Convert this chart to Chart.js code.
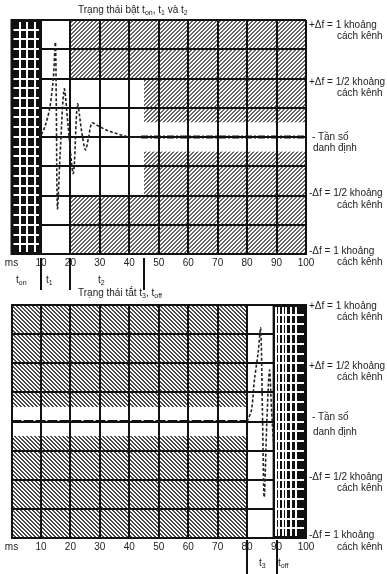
<!DOCTYPE html>
<html>
<head>
<meta charset="utf-8">
<script src="https://cdn.jsdelivr.net/npm/chart.js@4.4.0/dist/chart.umd.min.js"></script>
<style>
  body { margin: 0; background: #fff; font-family: "Liberation Sans", Arial, sans-serif; }
  #wrap { position: relative; width: 387px; height: 574px; overflow: hidden; }
  canvas { position: absolute; left: 0; }
  .t { position: absolute; font-size: 10px; line-height: 11px; color: #222; white-space: nowrap; }
  .t sub { font-size: 7px; vertical-align: baseline; position: relative; top: 2px; }
</style>
</head>
<body>
<div id="wrap">
  <canvas id="onChart" width="387" height="290" style="top:0"></canvas>
  <canvas id="offChart" width="387" height="284" style="top:290px"></canvas>

  <div class="t" style="left:78px;top:4px">Trạng thái bật t<sub>on</sub>, t<sub>1</sub> và t<sub>2</sub></div>
  <div class="t" style="left:309px;top:19px">+Δf = 1 khoảng</div>
  <div class="t" style="left:337px;top:30px">cách kênh</div>
  <div class="t" style="left:309px;top:76px">+Δf = 1/2 khoảng</div>
  <div class="t" style="left:337px;top:87px">cách kênh</div>
  <div class="t" style="left:312px;top:131px">- Tần số</div>
  <div class="t" style="left:313px;top:142px">danh định</div>
  <div class="t" style="left:309px;top:187px">-Δf = 1/2 khoảng</div>
  <div class="t" style="left:337px;top:199px">cách kênh</div>
  <div class="t" style="left:309px;top:245px">-Δf = 1 khoảng</div>
  <div class="t" style="left:337px;top:256px">cách kênh</div>
  <div class="t" style="left:16px;top:274px">t<sub>on</sub></div>
  <div class="t" style="left:46px;top:274px">t<sub>1</sub></div>
  <div class="t" style="left:98px;top:274px">t<sub>2</sub></div>

  <div class="t" style="left:78px;top:287px">Trạng thái tắt t<sub>3</sub>, t<sub>off</sub></div>
  <div class="t" style="left:309px;top:300px">+Δf = 1 khoảng</div>
  <div class="t" style="left:337px;top:311px">cách kênh</div>
  <div class="t" style="left:309px;top:360px">+Δf = 1/2 khoảng</div>
  <div class="t" style="left:337px;top:371px">cách kênh</div>
  <div class="t" style="left:312px;top:411px">- Tần số</div>
  <div class="t" style="left:313px;top:426px">danh định</div>
  <div class="t" style="left:309px;top:471px">-Δf = 1/2 khoảng</div>
  <div class="t" style="left:337px;top:482px">cách kênh</div>
  <div class="t" style="left:309px;top:529px">-Δf = 1 khoảng</div>
  <div class="t" style="left:337px;top:541px">cách kênh</div>
  <div class="t" style="left:259px;top:557px">t<sub>3</sub></div>
  <div class="t" style="left:278px;top:557px">t<sub>off</sub></div>
</div>

<script>
// axis range (ms, deviation in channel spacings)
const timeTicks = [0, 10, 20, 30, 40, 50, 60, 70, 80, 90, 100];
const devMin = -1, devMax = 1, devStep = 0.25;

// switch-on transient
const onTimes = [10.2, 11.5, 13, 14.2, 14.9, 15.2, 15.6, 16.5, 17.9, 19.2, 21, 22.4, 23.8, 25.1, 26.2, 27.3, 29, 30.6, 33, 35, 37.5, 40, 44];
const onDev   = [0.02, 0.1, 0.25, 0.5, 0.81, 0.3, -0.61, -0.15, 0.41, 0.1, -0.31, 0.28, 0.05, -0.11, 0, 0.12, 0.1, 0.08, 0.05, 0.035, 0.015, 0, 0];
const onSteadyTimes = [44, 100];
const onSteadyDev   = [0, 0];

// switch-off transient
const offSteadyTimes = [0, 80];
const offSteadyDev   = [0, 0];
const offTimes = [80, 81.5, 82.5, 83.8, 84.6, 85.2, 85.8, 86.7, 87.6, 88.3, 89];
const offDev   = [0, 0.1, 0.36, 0.6, 0.8, 0.1, -0.65, 0, 0.44, 0.1, -0.2];

// forbidden zones [t0, t1, dev0, dev1]
const onHatch = [[20, 100, 0.5, 1], [45, 100, 0.125, 0.5], [45, 100, -0.5, -0.125], [20, 100, -1, -0.5]];
const offHatch = [[0, 80, 0.125, 1], [0, 80, -1, -0.125]];
// blacked-out intervals and their white sub-grid
const onBlock = [0, 10];
const onBlockCols = [2.8, 5.4, 8.1];
const offBlock = [89, 100];
const offBlockCols = [89.9, 91, 92.2, 93.3, 95, 96.7];
const blockRowStep = 1 / 12;

// time markers below the axis
const onMarks = [10, 20, 45];
const offMarks = [80, 90];

function makeTile(dir, color) {
  const c = document.createElement('canvas');
  c.width = c.height = 4;
  const g = c.getContext('2d');
  g.fillStyle = color;
  for (let i = 0; i < 4; i++) {
    for (let j = 0; j < 4; j++) {
      const k = dir > 0 ? (i + j) % 4 : ((i - j) % 4 + 4) % 4;
      if (k < 2) g.fillRect(i, j, 1, 1);
    }
  }
  return c;
}

const zonesPlugin = {
  id: 'zones',
  beforeDraw(chart, args, opts) {
    const { ctx, scales: { x, y } } = chart;
    ctx.save();
    ctx.fillStyle = ctx.createPattern(makeTile(opts.dir, opts.color), 'repeat');
    opts.hatch.forEach(([t0, t1, d0, d1]) => {
      const l = x.getPixelForValue(t0), r = x.getPixelForValue(t1);
      const top = y.getPixelForValue(d1), bot = y.getPixelForValue(d0);
      ctx.fillRect(l, top, r - l, bot - top);
    });
    ctx.restore();
  },
  beforeDatasetsDraw(chart, args, opts) {
    const { ctx, scales: { x, y } } = chart;
    const l = x.getPixelForValue(opts.block[0]), r = x.getPixelForValue(opts.block[1]);
    const top = y.getPixelForValue(devMax), bot = y.getPixelForValue(devMin);
    ctx.save();
    ctx.fillStyle = '#111';
    ctx.fillRect(l - 1, top - 1, r - l + 2, bot - top + 2);
    ctx.strokeStyle = '#fff';
    ctx.lineWidth = 2;
    ctx.beginPath();
    opts.cols.forEach(v => {
      const px = Math.round(x.getPixelForValue(v));
      ctx.moveTo(px, top + 2);
      ctx.lineTo(px, bot - 2);
    });
    for (let v = devMin + blockRowStep; v < devMax - 0.001; v += blockRowStep) {
      const py = Math.round(y.getPixelForValue(v));
      ctx.moveTo(l + 2, py);
      ctx.lineTo(r - 2, py);
    }
    ctx.stroke();
    ctx.restore();
  },
  afterDraw(chart, args, opts) {
    const { ctx, scales: { x } } = chart;
    ctx.save();
    ctx.strokeStyle = '#111';
    ctx.lineWidth = 2;
    ctx.beginPath();
    opts.marks.forEach(v => {
      const px = Math.round(x.getPixelForValue(v));
      ctx.moveTo(px, chart.chartArea.bottom + opts.markGap);
      ctx.lineTo(px, chart.height);
    });
    ctx.stroke();
    ctx.restore();
  }
};

function pts(xs, ys) {
  return xs.map((v, i) => ({ x: v, y: ys[i] }));
}

function makeChart(id, cfg) {
  return new Chart(document.getElementById(id), {
    type: 'line',
    data: {
      datasets: [
        {
          data: pts(cfg.steadyTimes, cfg.steadyDev),
          borderColor: '#111',
          borderWidth: 3,
          borderDash: cfg.steadyDash,
          pointRadius: 0,
          tension: 0
        },
        {
          data: pts(cfg.times, cfg.dev),
          borderColor: '#222',
          borderWidth: 1.6,
          borderDash: [3, 2],
          pointRadius: 0,
          tension: 0.3
        }
      ]
    },
    options: {
      responsive: false,
      animation: false,
      devicePixelRatio: 1,
      layout: { padding: { left: 11.5, right: 81, top: cfg.padTop, bottom: 0 } },
      plugins: {
        legend: { display: false },
        tooltip: { enabled: false },
        zones: cfg.zones
      },
      scales: {
        x: {
          type: 'linear',
          min: 0,
          max: 100,
          afterBuildTicks: s => { s.ticks = timeTicks.map(v => ({ value: v })); },
          afterFit: s => { s.height = 36; },
          ticks: {
            autoSkip: false,
            maxRotation: 0,
            padding: 3,
            color: '#222',
            font: { family: '"Liberation Sans", Arial, sans-serif', size: 10 },
            callback: v => (v === 0 ? 'ms' : v)
          },
          grid: { color: '#111', lineWidth: 2, drawTicks: false },
          border: { display: true, color: '#111', width: 2 }
        },
        y: {
          min: devMin,
          max: devMax,
          ticks: { stepSize: devStep, display: false },
          afterFit: s => { s.width = 0; },
          grid: { color: '#111', lineWidth: 2, drawTicks: false },
          border: { display: true, color: '#111', width: 2 }
        }
      }
    },
    plugins: [zonesPlugin]
  });
}

makeChart('onChart', {
  times: onTimes, dev: onDev,
  steadyTimes: onSteadyTimes, steadyDev: onSteadyDev,
  steadyDash: [7, 2, 2, 2],
  padTop: 20,
  zones: { hatch: onHatch, dir: 1, color: '#666', block: onBlock, cols: onBlockCols, marks: onMarks, markGap: 4 }
});

makeChart('offChart', {
  times: offTimes, dev: offDev,
  steadyTimes: offSteadyTimes, steadyDev: offSteadyDev,
  steadyDash: [10, 2],
  padTop: 15,
  zones: { hatch: offHatch, dir: -1, color: '#4a4a4a', block: offBlock, cols: offBlockCols, marks: offMarks, markGap: 2 }
});
</script>
</body>
</html>
